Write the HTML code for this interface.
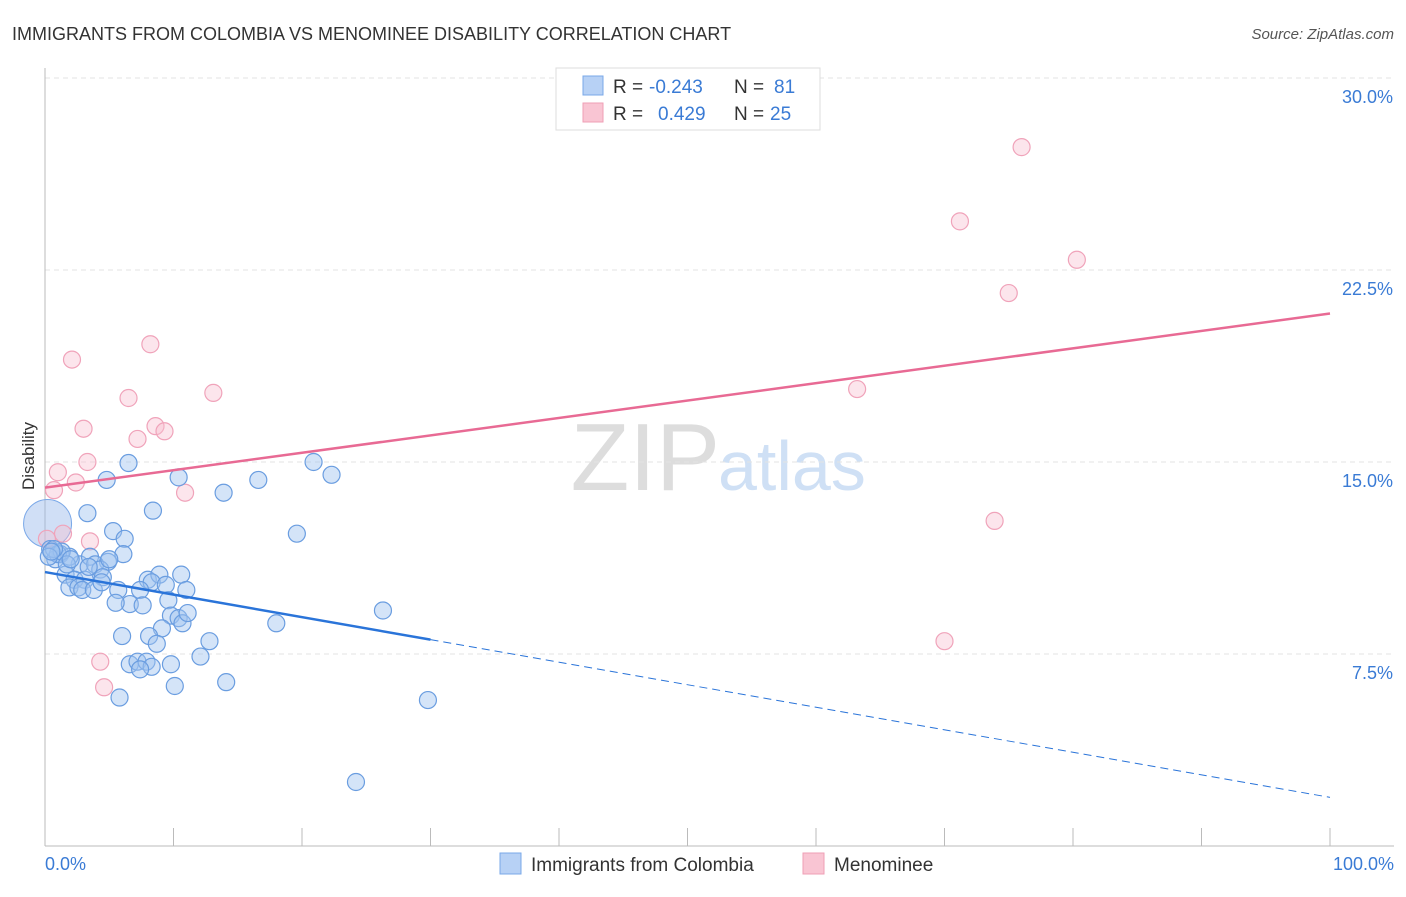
<!DOCTYPE html>
<html><head><meta charset="utf-8"><style>
body{margin:0;background:#fff;font-family:"Liberation Sans",sans-serif;}
svg text{font-family:"Liberation Sans",sans-serif;}
</style></head><body>
<svg id="chart" width="1406" height="892" xmlns="http://www.w3.org/2000/svg">
<text x="12" y="40" font-size="18" fill="#333">IMMIGRANTS FROM COLOMBIA VS MENOMINEE DISABILITY CORRELATION CHART</text>
<text x="1394" y="39" font-size="15" fill="#555" font-style="italic" text-anchor="end">Source: ZipAtlas.com</text>
<text x="720" y="490" font-size="96" fill="#ddd" font-family="Liberation Serif" text-anchor="end">ZIP</text>
<text x="718" y="490" font-size="70" fill="#cfe0f5">atlas</text>
<g id="grid"></g>
<line x1="45" y1="68" x2="45" y2="846" stroke="#bbb"/>
<line x1="45" y1="846" x2="1394" y2="846" stroke="#bbb"/>
<text x="34" y="456" font-size="17" fill="#333" text-anchor="middle" transform="rotate(-90 34 456)">Disability</text>
<text x="45" y="870" font-size="18" fill="#3a7bd5">0.0%</text>
<text x="1394" y="870" font-size="18" fill="#3a7bd5" text-anchor="end">100.0%</text>
<g id="points"></g>
<g id="trends"></g>
<g>
<rect x="556" y="68" width="264" height="62" fill="#fff" stroke="#ddd"/>
<rect x="583" y="76" width="20" height="19" fill="#b7d1f5" stroke="#7aa8e8"/>
<rect x="583" y="103" width="20" height="19" fill="#f9c5d3" stroke="#ef9fb6"/>
<text x="613" y="93" font-size="19" fill="#333">R = </text><text x="649" y="93" font-size="19" fill="#3a7bd5">-0.243</text>
<text x="734" y="93" font-size="19" fill="#333">N = </text><text x="774" y="93" font-size="19" fill="#3a7bd5">81</text>
<text x="613" y="120" font-size="19" fill="#333">R = </text><text x="658" y="120" font-size="19" fill="#3a7bd5">0.429</text>
<text x="734" y="120" font-size="19" fill="#333">N = </text><text x="770" y="120" font-size="19" fill="#3a7bd5">25</text>
</g>
<g>
<rect x="500" y="853" width="21" height="21" fill="#b7d1f5" stroke="#7aa8e8"/>
<text x="531" y="871" font-size="19" fill="#333">Immigrants from Colombia</text>
<rect x="803" y="853" width="21" height="21" fill="#f9c5d3" stroke="#ef9fb6"/>
<text x="834" y="871" font-size="19" fill="#333">Menominee</text>
</g>
</svg>
<script>
const yTicks=[7.5,15,22.5,30];
const yTickLabels=["7.5%","15.0%","22.5%","30.0%"];
const xTicks=[10,20,30,40,50,60,70,80,90,100];
const blueX=[6.5,4.8,10.4,8.4,13.9,16.6,20.9,22.3,19.6,3.3,5.3,6.2,6.1,4.9,2.7,1.2,0.4,0.8,1.9,3.5,3.9,4.3,1.6,2.3,3.1,4.5,5.7,1.9,2.6,2.9,8.0,8.9,10.6,8.3,9.4,11.0,7.4,6.6,5.5,7.6,9.6,9.8,10.4,10.7,11.1,9.1,6.0,8.1,8.7,12.8,18.0,26.3,12.1,6.6,7.2,7.9,8.3,7.4,9.8,14.1,10.1,5.8,29.8,24.2,1.0,1.3,3.8,4.4,0.7,1.7,0.3,2.0,3.4,5.0,0.5];
const blueY=[14.96,14.3,14.4,13.1,13.8,14.3,15.0,14.5,12.2,13.0,12.3,12.0,11.4,11.1,11.0,11.4,11.6,11.2,11.3,11.3,11.0,10.8,10.6,10.4,10.4,10.5,10.0,10.1,10.1,10.0,10.4,10.6,10.6,10.3,10.2,10.0,10.0,9.45,9.5,9.4,9.6,9.0,8.9,8.7,9.1,8.5,8.2,8.2,7.9,8.0,8.7,9.2,7.4,7.1,7.2,7.2,7.0,6.9,7.1,6.4,6.25,5.8,5.7,2.5,11.4,11.5,10.0,10.3,11.6,11.0,11.3,11.2,10.9,11.2,11.5];
const pinkX=[76.0,71.2,80.3,75.0,8.2,2.1,6.5,13.1,63.2,3.0,8.6,9.3,7.2,3.3,1.0,2.4,0.7,10.9,73.9,1.4,3.5,0.15,4.3,4.6,70.0];
const pinkY=[27.3,24.4,22.9,21.6,19.6,19.0,17.5,17.7,17.85,16.3,16.4,16.2,15.9,15.0,14.6,14.2,13.9,13.8,12.7,12.2,11.9,12.0,7.2,6.2,8.0];
const blueTrend=[10.7,1.9]; const blueSolidEnd=30;
const pinkTrend=[14.0,20.8];
const NS="http://www.w3.org/2000/svg";
const sx=v=>45+v*12.85, sy=v=>846-v*25.6;
function mk(t,a,p){const e=document.createElementNS(NS,t);for(const k in a)e.setAttribute(k,a[k]);p.appendChild(e);return e;}
const grid=document.getElementById('grid');
yTicks.forEach((t,i)=>{
 const l=mk('line',{x1:45,x2:1394,y1:sy(t),y2:sy(t),stroke:'#e3e3e3','stroke-dasharray':'5,4'},grid);
 
 
 const tx=mk('text',{x:1393,y:sy(t)+25,'font-size':18,fill:'#3a7bd5','text-anchor':'end'},grid);
 tx.textContent=yTickLabels[i];
 
 
});
xTicks.forEach(t=>{
 const l=mk('line',{x1:sx(t),x2:sx(t),y1:828,y2:846,stroke:'#bbb'},grid);
 
 
});
const pts=document.getElementById('points');
const big=mk('circle',{cx:sx(0.2),cy:sy(12.6),r:24,fill:'rgba(150,185,235,0.45)',stroke:'#7aa8e8'},pts);


pinkX.forEach((x,i)=>{
 const c=mk('circle',{cx:sx(x),cy:sy(pinkY[i]),r:8.5,fill:'rgba(248,190,208,0.4)',stroke:'#f0a3ba','stroke-width':1.2},pts);
 
 
});
blueX.forEach((x,i)=>{
 const c=mk('circle',{cx:sx(x),cy:sy(blueY[i]),r:8.5,fill:'rgba(160,196,240,0.45)',stroke:'#6a9de0','stroke-width':1.2},pts);
 
 
});
const tr=document.getElementById('trends');
const bf=x=>blueTrend[0]+blueTrend[1]*x/100-blueTrend[0]*x/100;
const b1=mk('line',{x1:sx(0),y1:sy(bf(0)),x2:sx(blueSolidEnd),y2:sy(bf(blueSolidEnd)),stroke:'#2a74d9','stroke-width':2.5},tr);


const b2=mk('line',{x1:sx(blueSolidEnd),y1:sy(bf(blueSolidEnd)),x2:sx(100),y2:sy(bf(100)),stroke:'#2a74d9','stroke-width':1,'stroke-dasharray':'8,5'},tr);


const p1=mk('line',{x1:sx(0),y1:sy(pinkTrend[0]),x2:sx(100),y2:sy(pinkTrend[1]),stroke:'#e86a94','stroke-width':2.5},tr);


</script>
</body></html>
